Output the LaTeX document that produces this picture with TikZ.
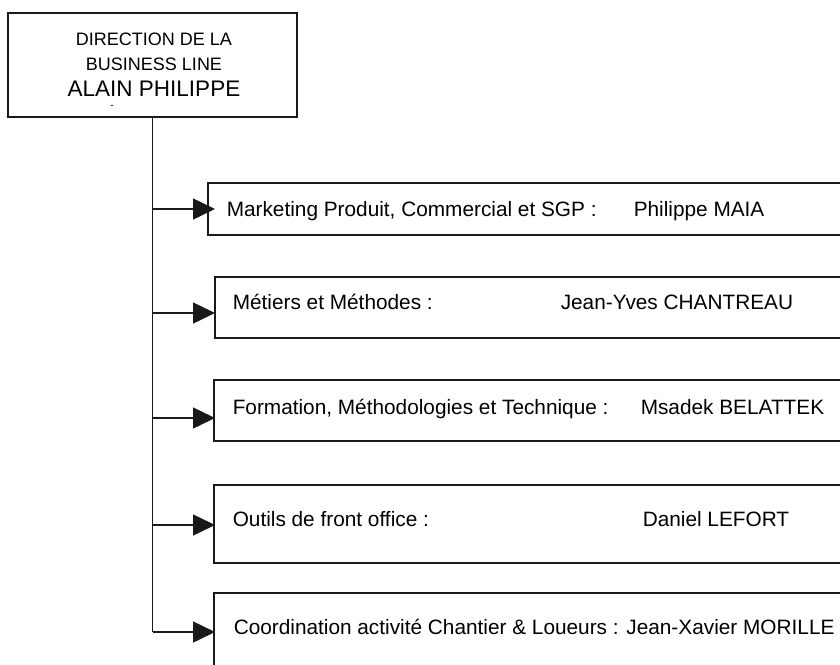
\documentclass[tikz,border=0pt]{standalone}
\usepackage{fontspec}
\setmainfont{Liberation Sans}
\usetikzlibrary{positioning, arrows.meta}

\begin{document}
\begin{tikzpicture}[x=1pt, y=-1pt, line width=1.5pt,
  box/.style={draw=black!90, rectangle, minimum width=700pt, anchor=north west, inner sep=0pt},
  lbl/.style={anchor=base west, inner sep=0pt, font=\fontsize{20.8}{24}\selectfont},
  head/.style={anchor=base, inner sep=0pt, font=\fontsize{18}{20}\selectfont},
  tip/.style={draw=black!90, -{Triangle[length=22pt, width=21pt]}}]

  \useasboundingbox (0,0) rectangle (840,664);
  \clip (0,0) rectangle (840,664);

  % direction
  \node[draw=black!90, minimum width=289pt, minimum height=104pt] (dir) at (152.5,65) {};
  \node[head] (d1) at (154,45) {DIRECTION DE LA};
  \node[head] (d2) at (154,70) {BUSINESS LINE};
  \node[head, font=\fontsize{22.5}{24}\selectfont] (d3) at (154,96) {ALAIN PHILIPPE};
  \node[inner sep=0pt, font=\fontsize{10}{10}\selectfont] (d4) at (112,107) {-};

  % boxes
  \node[box, minimum height=52pt] (mk) at (207,182) {};
  \node[box, minimum height=61pt] (mm) at (214,276) {};
  \node[box, minimum height=61pt] (fm) at (213,379) {};
  \node[box, minimum height=78pt] (of) at (213,484) {};
  \node[box, minimum height=90pt] (co) at (213,592) {};

  \node[lbl] (mk1) at (226,216) {Marketing Produit, Commercial et SGP :};
  \node[lbl] (mk2) at (633,216) {Philippe MAIA};
  \node[lbl] (mm1) at (232,309) {Métiers et Méthodes :};
  \node[lbl] (mm2) at (560,309) {Jean-Yves CHANTREAU};
  \node[lbl] (fm1) at (232,414) {Formation, Méthodologies et Technique :};
  \node[lbl] (fm2) at (640,414) {Msadek BELATTEK};
  \node[lbl] (of1) at (232,526) {Outils de front office :};
  \node[lbl] (of2) at (642,526) {Daniel LEFORT};
  \node[lbl] (co1) at (233,634) {Coordination activité Chantier \& Loueurs : Jean-Xavier MORILLE};

  % arrow ends
  \coordinate (t1) at (215,209);
  \coordinate (t2) at (215,313);
  \coordinate (t3) at (215,418);
  \coordinate (t4) at (215,525);
  \coordinate (t5) at (215,632);

  \draw[draw=black!90] (dir.south) -- (dir.south |- t5);
  \foreach \t in {t1,t2,t3,t4,t5}
    \draw[tip] (dir.south |- \t) -- (\t);
\end{tikzpicture}
\end{document}
